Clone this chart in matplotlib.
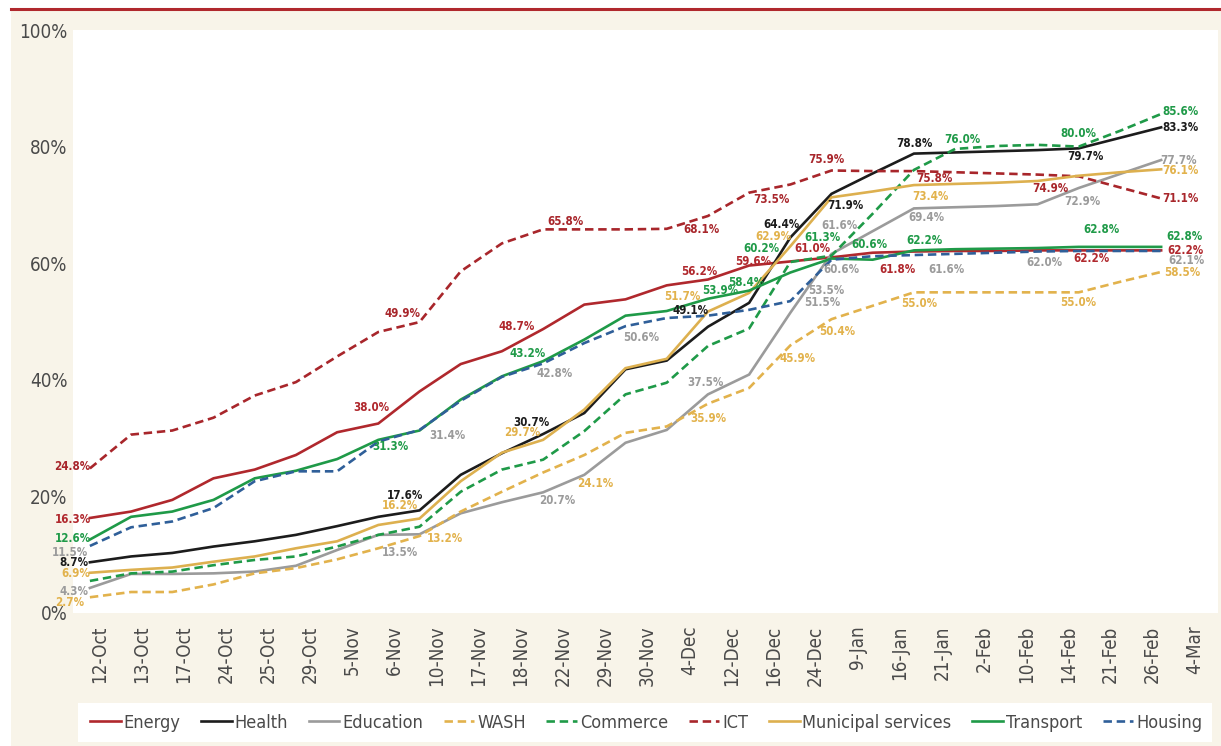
"""Sector recovery progress by date: nine sector lines with value labels."""

import matplotlib

matplotlib.use("Agg")

import matplotlib.pyplot as plt
import numpy as np
from matplotlib.lines import Line2D
from matplotlib.patches import Rectangle
from matplotlib.ticker import PercentFormatter

# DejaVu Sans Condensed is picked up through the stretch setting
plt.rcParams["font.family"] = ["DejaVu Sans"]
plt.rcParams["font.stretch"] = "condensed"

dates = ["12-Oct", "13-Oct", "17-Oct", "24-Oct", "25-Oct", "29-Oct", "5-Nov", "6-Nov",
         "10-Nov", "17-Nov", "18-Nov", "22-Nov", "29-Nov", "30-Nov", "4-Dec", "12-Dec",
         "16-Dec", "24-Dec", "9-Jan", "16-Jan", "21-Jan", "2-Feb", "10-Feb", "14-Feb",
         "21-Feb", "26-Feb", "4-Mar"]

energy = [16.3, 17.4, 19.4, 23.1, 24.6, 27.1, 31.0, 32.5, 38.0, 42.7, 44.9, 48.7, 52.9, 53.8,
          56.2, 57.2, 59.6, 60.3, 61.0, 61.8, 62.0, 62.1, 62.1, 62.2, 62.2, 62.2, 62.2]
health = [8.7, 9.7, 10.3, 11.4, 12.3, 13.4, 14.9, 16.5, 17.6, 23.7, 27.4, 30.7, 34.3, 41.8,
          43.3, 49.1, 53.2, 64.4, 71.9, 75.4, 78.8, 79.0, 79.2, 79.4, 79.7, 81.5, 83.3]
education = [4.3, 6.7, 6.7, 6.8, 7.1, 8.1, 10.8, 13.4, 13.5, 17.1, 19.0, 20.7, 23.7, 29.2,
             31.4, 37.5, 40.9, 51.5, 61.6, 65.5, 69.4, 69.6, 69.8, 70.1, 72.9, 75.3, 77.7]
wash = [2.7, 3.6, 3.6, 4.9, 6.8, 7.7, 9.2, 11.1, 13.2, 17.4, 20.8, 24.1, 27.1, 30.9, 32.0,
        35.9, 38.6, 45.9, 50.4, 52.7, 55.0, 55.0, 55.0, 55.0, 55.0, 56.8, 58.5]
commerce = [5.5, 6.8, 7.1, 8.2, 9.1, 9.7, 11.4, 13.4, 14.8, 20.8, 24.6, 26.3, 31.2, 37.5,
            39.5, 45.8, 48.8, 60.2, 61.3, 68.5, 76.0, 79.6, 80.1, 80.3, 80.0, 82.7, 85.6]
ict = [24.8, 30.6, 31.3, 33.5, 37.3, 39.6, 44.0, 48.2, 49.9, 58.6, 63.4, 65.8, 65.8, 65.8,
       65.9, 68.1, 72.1, 73.5, 75.9, 75.8, 75.8, 75.6, 75.4, 75.2, 74.9, 73.0, 71.1]
municipal = [6.9, 7.4, 7.8, 8.8, 9.7, 11.1, 12.3, 15.1, 16.2, 22.6, 27.5, 29.7, 34.9, 42.0,
             43.6, 51.7, 54.9, 62.9, 71.3, 72.3, 73.4, 73.6, 73.8, 74.1, 75.0, 75.6, 76.1]
transport = [12.6, 16.5, 17.4, 19.4, 23.1, 24.4, 26.4, 29.7, 31.3, 36.6, 40.6, 43.2, 46.9,
             51.0, 51.8, 53.9, 55.3, 58.4, 60.8, 60.6, 62.2, 62.4, 62.5, 62.6, 62.8, 62.8, 62.8]
housing = [11.5, 14.7, 15.7, 18.0, 22.6, 24.3, 24.3, 29.4, 31.4, 36.4, 40.5, 42.8, 46.3, 49.2,
           50.6, 51.0, 52.0, 53.5, 60.6, 61.2, 61.4, 61.6, 61.8, 62.0, 62.1, 62.1, 62.1]

# name, values, line colour, dashed, label colour
series = [
    ("Energy", energy, "#b0282d", False, "#b0282d"),
    ("Health", health, "#1c1c1c", False, "#1c1c1c"),
    ("Education", education, "#9b9b9b", False, "#9b9b9b"),
    ("WASH", wash, "#e2b24c", True, "#e2b24c"),
    ("Commerce", commerce, "#1f9a48", True, "#1f9a48"),
    ("ICT", ict, "#a8262b", True, "#a8262b"),
    ("Municipal services", municipal, "#ddb04f", False, "#e2b24c"),
    ("Transport", transport, "#1f9a48", False, "#1f9a48"),
    ("Housing", housing, "#2f5f99", True, "#9b9b9b"),
]

# which points carry a value label, and where the label sits (pixels from the point)
label_offsets = {
    "Energy": {0: (-17, -2), 8: (-48, -16), 11: (-26, 3), 14: (33, 14), 16: (4, 4),
               18: (-19, 9), 19: (25, -17), 24: (13, -8), 26: (24, 0)},
    "ICT": {0: (-18, 2), 8: (-17, 9), 11: (22, 8), 15: (-6, -14), 17: (-19, -15),
            18: (-5, 11), 20: (21, -7), 24: (-28, -12), 26: (19, 0)},
    "Health": {0: (-16, 0), 8: (-15, 15), 11: (-12, 12), 15: (-17, 16), 17: (-9, 13),
               18: (14, -12), 20: (1, 10), 24: (7, -8), 26: (19, 0)},
    "Education": {0: (-16, -4), 8: (-20, -18), 11: (14, -8), 15: (-2, 12), 17: (32, 10),
                  18: (8, 28), 20: (13, -9), 24: (4, -14), 26: (17, 0)},
    "WASH": {0: (-20, -5), 8: (25, -2), 11: (52, -11), 15: (0, -15), 17: (7, -13),
             18: (6, -12), 20: (5, -11), 24: (0, -10), 26: (21, -1)},
    "Commerce": {17: (-29, 14), 18: (-9, 18), 20: (48, 30), 24: (0, 13), 26: (19, 2)},
    "Municipal services": {0: (-14, -1), 8: (-20, 13), 11: (-21, 7), 15: (-26, 15),
                           17: (-17, 10), 20: (17, -11), 26: (19, -1)},
    "Transport": {0: (-17, 1), 8: (-29, -16), 11: (-15, 8), 15: (12, 8), 17: (-44, -10),
                  19: (-3, 15), 20: (11, 10), 24: (23, 17), 26: (23, 10)},
    "Housing": {0: (-20, -7), 8: (28, -6), 11: (12, -10), 14: (-25, -19), 17: (36, 11),
                18: (10, -10), 21: (-9, -16), 23: (7, -11), 26: (25, -10)},
}

BEIGE = "#f8f4e9"
DASHES = (3.2, 1.8)

fig = plt.figure(figsize=(12.21, 7.46), dpi=100)
fig.patch.set_facecolor("white")
fig.add_artist(Rectangle((11 / 1221, 0), 1, 736 / 746, transform=fig.transFigure,
                         facecolor=BEIGE, edgecolor="none", zorder=-10))
fig.add_artist(Line2D([11 / 1221, 1], [737.5 / 746] * 2, transform=fig.transFigure,
                      color="#b0282d", lw=2.2))
fig.add_artist(Rectangle((78 / 1221, 4 / 746), 1134 / 1221, 39 / 746, transform=fig.transFigure,
                         facecolor="white", edgecolor="none", zorder=-5))

ax = fig.add_axes([73 / 1221, 133 / 746, 1145 / 1221, 583 / 746])
ax.set_facecolor("white")
x = np.arange(len(dates))

handles = []
for name, values, color, dashed, label_color in series:
    kw = dict(color=color, lw=1.9, solid_joinstyle="miter")
    if dashed:
        kw["dashes"] = DASHES
    ax.plot(x, values, **kw)
    handles.append(Line2D([], [], label=name, **kw))
    for i, (dx, dy) in label_offsets[name].items():
        ax.annotate(f"{values[i]:.1f}%", xy=(i, values[i]), xytext=(dx, dy),
                    textcoords="offset pixels", ha="center", va="center",
                    color=label_color, fontsize=8.3, fontweight="bold", zorder=5)

ax.set_xlim(-0.41, 27.38)
ax.set_ylim(0, 100)
ax.set_yticks(np.arange(0, 101, 20))
ax.yaxis.set_major_formatter(PercentFormatter(decimals=0))
ax.set_xticks(x * 1.022 + 0.24)
ax.set_xticklabels(dates, rotation=90)
ax.tick_params(axis="both", length=0, colors="#4a4a4a", labelsize=13.5)
ax.tick_params(axis="x", pad=9)
ax.tick_params(axis="y", pad=4)
for spine in ax.spines.values():
    spine.set_visible(False)

fig.legend(handles=handles, loc="center", bbox_to_anchor=(646 / 1221, 23.5 / 746), ncol=9,
           frameon=False, fontsize=13, handlelength=1.7, handletextpad=0.15,
           columnspacing=1.15, labelcolor="#4a4a4a")

fig.savefig("out.png", dpi=100, facecolor=fig.get_facecolor())
